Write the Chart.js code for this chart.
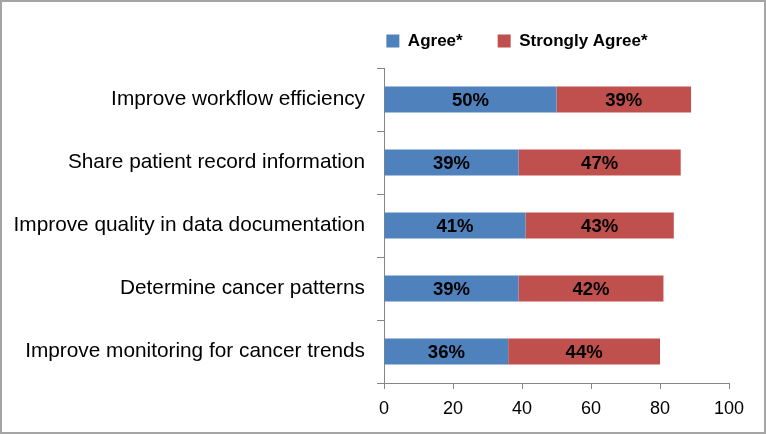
<!DOCTYPE html>
<html>
<head>
<meta charset="utf-8">
<script src="https://cdn.jsdelivr.net/npm/chart.js@4"></script>
<style>
  html, body { margin: 0; padding: 0; background: #fff; }
  #wrap {
    width: 766px; height: 434px; box-sizing: border-box;
    border: 2px solid #a5a5a5; background: #fff;
  }
  canvas { display: block; }
</style>
</head>
<body>
<div id="wrap"><canvas id="chart" width="762" height="430"></canvas></div>
<script>
const categories = [
  'Improve workflow efficiency',
  'Share patient record information',
  'Improve quality in data documentation',
  'Determine cancer patterns',
  'Improve monitoring for cancer trends'
];
const agree = [50, 39, 41, 39, 36];
const stronglyAgree = [39, 47, 43, 42, 44];
const xMin = 0;
const xMax = 100;
const xStep = 20;

const FONT = "'Liberation Sans', Arial, sans-serif";
const LEGEND_PAD = 35;

// bold % labels centred in each bar segment
const barLabels = {
  id: 'barLabels',
  afterDatasetsDraw(chart) {
    const ctx = chart.ctx;
    ctx.save();
    ctx.font = 'bold 18.5px ' + FONT;
    ctx.fillStyle = '#000';
    ctx.textAlign = 'center';
    ctx.textBaseline = 'middle';
    chart.data.datasets.forEach((ds, i) => {
      chart.getDatasetMeta(i).data.forEach((bar, j) => {
        ctx.fillText(ds.data[j] + '%', (bar.x + bar.base) / 2, bar.y + 1);
      });
    });
    ctx.restore();
  }
};

// move the legend to where the original sits (right of centre)
const legendPlace = {
  id: 'legendPlace',
  afterLayout(chart) {
    const lg = chart.legend;
    const dx = 515 - (lg.left + lg.right) / 2;
    lg.left += dx; lg.right += dx;
    const dy = 39 - (lg.top + LEGEND_PAD + 8.5);
    lg.top += dy; lg.bottom += dy;
    lg.adjustHitBoxes && lg.adjustHitBoxes();
  }
};

new Chart(document.getElementById('chart'), {
  type: 'bar',
  data: {
    labels: categories,
    datasets: [
      { label: 'Agree*', data: agree, backgroundColor: '#4f81bd' },
      { label: 'Strongly Agree*', data: stronglyAgree, backgroundColor: '#c0504d' }
    ]
  },
  options: {
    indexAxis: 'y',
    responsive: false,
    animation: false,
    categoryPercentage: 1,
    barPercentage: 0.41,
    layout: { padding: { top: 4, right: 35, bottom: 0, left: 0 } },
    scales: {
      x: {
        stacked: true,
        min: xMin, max: xMax,
        ticks: { stepSize: xStep, color: '#000', padding: 9, font: { family: FONT, size: 18 } },
        grid: { drawOnChartArea: false, tickLength: 6, color: '#868686' },
        border: { color: '#868686' },
        afterFit(s) { s.height = 49; }
      },
      y: {
        stacked: true,
        ticks: { color: '#000', padding: 12, font: { family: FONT, size: 20.8 } },
        grid: { drawOnChartArea: false, tickLength: 7, color: '#868686', offset: true },
        border: { color: '#868686' },
        afterFit(s) { s.width = 382; }
      }
    },
    plugins: {
      legend: {
        position: 'top',
        labels: {
          boxWidth: 13, boxHeight: 13, padding: LEGEND_PAD, color: '#000',
          font: { family: FONT, size: 17, weight: 'bold' }
        }
      },
      tooltip: { enabled: false }
    }
  },
  plugins: [barLabels, legendPlace]
});
</script>
</body>
</html>
